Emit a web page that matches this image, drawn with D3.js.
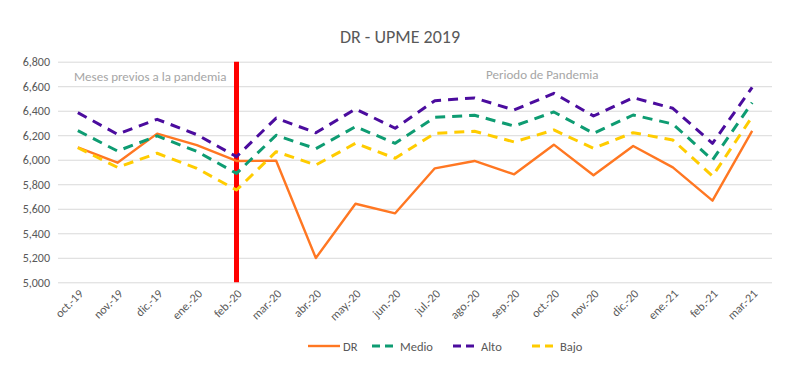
<!DOCTYPE html>
<html><head><meta charset="utf-8">
<script src="https://cdn.jsdelivr.net/npm/d3@7"></script>
<style>body{margin:0;background:#fff}svg{display:block}text{font-family:Carlito,Lato,"Open Sans",sans-serif}</style>
</head><body><svg id="c" width="800" height="379"></svg>
<script>
const months = ["oct.-19","nov.-19","dic.-19","ene.-20","feb.-20","mar.-20","abr.-20","may.-20","jun.-20","jul.-20","ago.-20","sep.-20","oct.-20","nov.-20","dic.-20","ene.-21","feb.-21","mar.-21"];
const dr    = [6100,5976,6213,6120,5990,5992,5198,5641,5563,5930,5990,5881,6123,5873,6112,5938,5666,6235];
const medio = [6237,6071,6194,6068,5889,6200,6090,6270,6134,6346,6363,6275,6390,6216,6365,6292,5998,6466];
const alto  = [6384,6208,6330,6205,6025,6340,6220,6414,6257,6482,6504,6406,6542,6357,6506,6420,6134,6590];
const bajo  = [6098,5938,6053,5930,5753,6066,5957,6134,6012,6216,6232,6145,6243,6093,6221,6161,5867,6351];
const yTicks = [5000,5200,5400,5600,5800,6000,6200,6400,6600,6800];
const series = [
  {name:"DR", values:dr, color:"#FF7722", dash:null, width:2.4},
  {name:"Medio", values:medio, color:"#0E9C72", dash:"10,7", width:3},
  {name:"Alto", values:alto, color:"#4B0C9E", dash:"10,7", width:3},
  {name:"Bajo", values:bajo, color:"#FFCC00", dash:"10,7", width:3}
];
const pandemicStart = "feb.-20";

const svg = d3.select("#c");
const m = {l:58, r:28, t:61.7, b:97};
const W = 800, H = 379;
const x = d3.scaleBand().domain(months).range([m.l, W-m.r]);
const y = d3.scaleLinear().domain([5000,6800]).range([282.3, 61.7]);

svg.append("text").attr("x",400).attr("y",43).attr("text-anchor","middle")
  .attr("font-size",18).attr("fill","#595959").text("DR - UPME 2019");

const ga = svg.append("g").attr("transform",`translate(${m.l},0)`)
  .call(d3.axisLeft(y).tickValues(yTicks).tickSize(-(W-m.l-m.r)).tickFormat(d3.format(",")));
ga.select(".domain").remove();
ga.selectAll(".tick line").attr("stroke","#d9d9d9").attr("stroke-width",1);
ga.selectAll(".tick text").attr("x",-8).attr("font-size",12).attr("fill","#595959")
  .style("font-family","Carlito,Lato,sans-serif");

const gx = svg.append("g").attr("transform",`translate(0,282.3)`)
  .call(d3.axisBottom(x).tickSize(0));
gx.select(".domain").remove();
gx.selectAll(".tick text").attr("font-size",12).attr("fill","#595959")
  .attr("text-anchor","end").attr("dy",0).attr("dx",0)
  .attr("transform","translate(4,10) rotate(-45)")
  .style("font-family","Carlito,Lato,sans-serif");

// pandemic marker
svg.append("line").attr("x1",x(pandemicStart)+x.bandwidth()/2).attr("x2",x(pandemicStart)+x.bandwidth()/2)
  .attr("y1",y(6800)).attr("y2",y(5000)).attr("stroke","#FF0000").attr("stroke-width",5);

svg.append("text").attr("x",74).attr("y",81).attr("font-size",13).attr("fill","#a6a6a6").text("Meses previos a la pandemia");
svg.append("text").attr("x",486).attr("y",79).attr("font-size",13).attr("fill","#a6a6a6").text("Periodo de Pandemia");

const line = d3.line().x((d,i)=>x(months[i])+x.bandwidth()/2).y(d=>y(d));
series.forEach(s=>{
  svg.append("path").attr("d",line(s.values)).attr("fill","none").attr("stroke",s.color)
    .attr("stroke-width",s.width).attr("stroke-dasharray",s.dash).attr("stroke-linejoin","round");
});

// legend
const lg = [
  {s:series[0], x1:308, x2:340, tx:343},
  {s:series[1], x1:372, x2:397, tx:400},
  {s:series[2], x1:453, x2:478, tx:481},
  {s:series[3], x1:532, x2:557, tx:560}
];
lg.forEach(l=>{
  svg.append("line").attr("x1",l.x1).attr("x2",l.x2).attr("y1",346).attr("y2",346)
    .attr("stroke",l.s.color).attr("stroke-width",l.s.width)
    .attr("stroke-dasharray",l.s.dash ? "8,5" : null);
  svg.append("text").attr("x",l.tx).attr("y",350.5).attr("font-size",12.5).attr("fill","#595959").text(l.s.name);
});
</script></body></html>
